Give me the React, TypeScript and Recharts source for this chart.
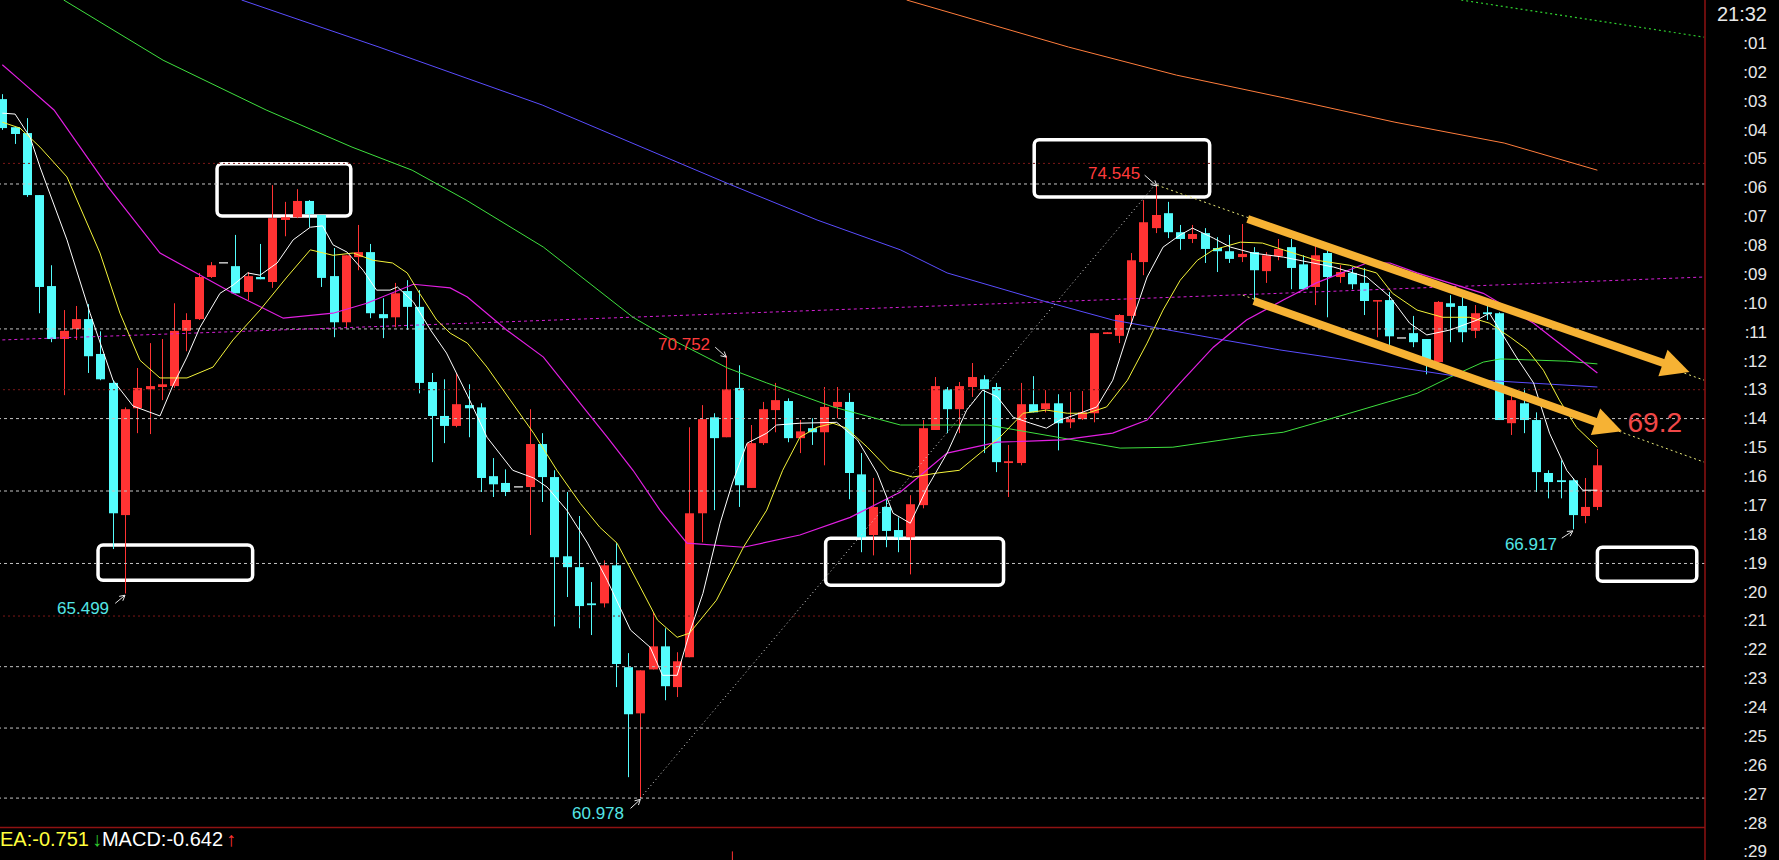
import React from 'react';
import {
  ComposedChart,
  Bar,
  Line,
  XAxis,
  YAxis,
  ReferenceLine,
  ReferenceArea,
  ReferenceDot,
} from 'recharts';

const W = 1779;
const H = 860;
const FONT = 'Arial, "Liberation Sans", sans-serif';
const UP = '#ff3333';
const DOWN = '#54fcfc';
const FLAT = '#c8c8c8';
const ARROW = '#f6b234';
const AXIS_RED = '#8e1212';
const BODY_W = 9;

// candles, one per bar
const OPEN = [
  76.42, 75.80, 75.67, 74.30, 72.29, 71.12, 71.34, 71.56, 70.79, 70.15,
  67.23, 69.59, 70.01, 70.06, 70.08, 71.30, 71.56, 72.49, 72.82, 72.73,
  72.16, 72.49, 72.38, 73.75, 73.81, 74.17, 73.86, 72.51, 71.49, 72.93,
  73.04, 71.67, 71.60, 72.18, 71.83, 70.17, 69.42, 69.20, 69.66, 69.61,
  68.09, 67.94, 67.87, 67.85, 68.80, 68.07, 66.32, 66.08, 65.28, 65.28,
  66.12, 63.87, 62.85, 63.82, 64.33, 63.43, 64.09, 67.27, 69.39, 68.95,
  70.04, 67.83, 68.82, 69.55, 69.75, 68.93, 69.15, 69.06, 69.62, 69.73,
  68.13, 66.79, 67.41, 66.90, 66.74, 67.45, 69.11, 70.01, 69.57, 70.06,
  70.23, 70.06, 68.38, 68.38, 69.68, 69.57, 69.70, 69.28, 69.35, 69.48,
  71.23, 71.19, 71.63, 72.82, 73.57, 73.90, 73.48, 73.33, 73.46, 73.13,
  73.06, 72.93, 73.04, 72.62, 72.95, 73.15, 72.77, 72.27, 73.02, 72.49,
  72.58, 72.36, 71.96, 71.98, 71.16, 71.25, 71.12, 70.61, 71.91, 71.85,
  71.30, 71.71, 71.69, 69.26, 69.70, 69.33, 68.16, 68.00, 68.00, 67.21,
  67.41,
];
const HIGH = [
  76.53, 75.80, 76.00, 74.30, 72.75, 71.76, 71.85, 71.89, 71.29, 70.21,
  69.61, 70.48, 71.03, 71.12, 71.91, 71.69, 72.58, 72.82, 72.82, 73.42,
  72.60, 73.22, 74.52, 74.15, 74.43, 74.19, 73.86, 73.13, 72.97, 73.64,
  73.22, 72.02, 72.36, 72.42, 72.20, 70.37, 70.23, 70.37, 70.12, 69.70,
  68.49, 68.24, 67.87, 69.57, 69.04, 68.22, 67.74, 67.21, 65.75, 66.23,
  66.61, 64.18, 63.80, 65.08, 64.73, 64.20, 69.17, 69.66, 69.48, 70.752,
  70.54, 69.22, 69.73, 70.15, 69.81, 69.33, 69.37, 70.06, 70.06, 69.93,
  68.60, 68.05, 67.60, 67.18, 67.67, 69.33, 70.28, 70.06, 70.17, 70.59,
  70.32, 70.15, 68.78, 70.15, 70.30, 69.99, 69.90, 69.95, 69.97, 71.25,
  71.27, 71.67, 73.02, 74.19, 74.545, 74.15, 73.64, 73.64, 73.57, 73.37,
  73.42, 73.66, 73.15, 73.04, 73.33, 73.33, 72.97, 73.24, 73.15, 72.75,
  72.71, 72.69, 71.98, 72.16, 71.16, 71.63, 71.12, 71.96, 72.09, 72.05,
  71.87, 71.85, 71.71, 69.95, 70.03, 69.50, 68.22, 68.44, 68.05, 68.05,
  68.69,
];
const LOW = [
  75.74, 75.43, 74.26, 71.69, 71.05, 69.88, 71.10, 70.37, 70.21, 66.48,
  65.499, 69.04, 69.02, 69.77, 70.04, 70.85, 71.54, 72.47, 72.82, 72.13,
  71.98, 72.44, 72.25, 73.39, 73.79, 73.59, 72.27, 71.16, 71.36, 72.64,
  71.58, 71.14, 71.38, 71.32, 69.92, 68.40, 68.82, 69.17, 68.95, 67.74,
  67.63, 67.65, 67.87, 66.79, 67.52, 64.77, 65.42, 64.73, 64.58, 65.19,
  63.43, 61.44, 60.978, 63.82, 63.14, 63.21, 64.09, 66.63, 67.34, 68.95,
  67.41, 67.83, 68.78, 69.06, 68.84, 68.60, 68.78, 68.33, 69.37, 67.58,
  66.41, 66.34, 66.52, 66.41, 65.92, 67.38, 69.11, 69.04, 69.04, 69.84,
  68.60, 68.18, 67.63, 68.33, 69.50, 69.50, 68.66, 69.15, 69.33, 69.28,
  71.23, 71.03, 71.43, 72.53, 73.46, 73.35, 73.09, 73.24, 72.80, 72.60,
  72.80, 72.82, 71.89, 72.36, 72.86, 72.22, 72.20, 71.87, 71.60, 72.36,
  72.22, 71.65, 71.16, 70.99, 71.16, 70.94, 70.34, 70.61, 71.05, 71.05,
  71.14, 71.54, 69.33, 69.00, 69.04, 67.74, 67.60, 67.60, 66.917, 67.05,
  67.34,
];
const CLOSE = [
  75.78, 75.65, 74.30, 72.27, 71.12, 71.30, 71.56, 70.74, 70.23, 67.27,
  69.57, 70.04, 70.08, 70.12, 71.30, 71.54, 72.49, 72.75, 72.82, 72.13,
  72.51, 72.44, 73.79, 73.81, 74.17, 73.88, 72.47, 71.49, 72.97, 73.04,
  71.69, 71.58, 72.13, 71.83, 70.15, 69.42, 69.20, 69.68, 69.59, 68.05,
  67.91, 67.74, 67.87, 68.80, 68.07, 66.30, 66.08, 65.22, 65.24, 66.12,
  63.94, 62.83, 63.80, 64.33, 63.45, 64.00, 67.27, 69.35, 68.93, 70.01,
  67.89, 68.82, 69.57, 69.77, 68.93, 69.08, 69.06, 69.62, 69.73, 68.16,
  66.74, 67.41, 66.88, 66.74, 67.47, 69.15, 70.08, 69.57, 70.08, 70.28,
  70.01, 68.40, 68.42, 69.68, 69.50, 69.70, 69.26, 69.35, 69.50, 71.25,
  71.27, 71.65, 72.86, 73.70, 73.86, 73.48, 73.33, 73.44, 73.11, 73.06,
  72.89, 73.00, 72.64, 72.97, 73.11, 72.69, 72.22, 72.97, 72.49, 72.60,
  72.33, 71.96, 71.98, 71.18, 71.16, 71.05, 70.63, 71.94, 71.83, 71.27,
  71.69, 71.67, 69.33, 69.77, 69.33, 68.18, 67.96, 67.96, 67.23, 67.41,
  68.33,
];

// moving averages as [bar index, price]
const MA_WHITE = [
  [0, 76.11], [1.04, 76.09], [2.26, 75.58], [3.07, 74.92], [5.27, 73.31], [7.15, 71.69],
  [9.02, 70.21], [10.65, 69.64], [12.85, 69.42], [13.91, 70.1], [15.05, 70.72], [16.11, 71.38],
  [17.74, 72.13], [18.8, 72.31], [20.0, 72.58], [21.0, 72.53], [22.4, 72.8], [23.7, 73.31],
  [25.1, 73.59], [26.1, 73.62], [26.95, 73.2], [28.1, 73.04], [29.4, 72.64], [30.5, 72.2],
  [31.6, 72.2], [32.2, 72.27], [33.5, 71.94], [34.9, 71.32], [36.2, 70.81], [37.9, 69.88],
  [39.5, 68.95], [41.6, 68.22], [43.3, 68.05], [44.4, 67.85], [46.0, 67.34], [47.7, 66.61],
  [49.3, 65.79], [51.2, 64.69], [52.8, 64.31], [53.8, 63.69], [55.0, 63.69], [56.0, 64.62],
  [57.1, 65.5], [58.5, 67.05], [59.5, 67.94], [60.7, 68.82], [62.3, 69.04], [63.1, 69.22],
  [65.0, 69.26], [68.0, 69.28], [69.7, 68.89], [71.3, 68.16], [72.6, 67.27], [74.0, 67.05],
  [75.4, 67.85], [77.0, 68.6], [78.6, 69.55], [79.9, 69.99], [81.1, 69.84], [82.4, 69.39],
  [83.8, 69.26], [85.1, 69.15], [86.2, 69.33], [87.8, 69.48], [89.2, 69.62], [90.5, 70.21],
  [91.9, 71.38], [93.3, 72.49], [94.6, 73.15], [96.0, 73.42], [97.0, 73.57], [98.7, 73.35],
  [100.1, 73.15], [101.9, 73.02], [104.4, 72.93], [108.5, 72.71], [111.2, 72.49], [113.1, 72.05],
  [114.7, 71.47], [116.1, 71.21], [118.0, 71.32], [120.2, 71.54], [121.2, 71.69], [123.4, 70.72],
  [124.8, 70.15], [126.1, 69.04], [127.5, 68.22], [128.8, 67.78], [130.0, 67.78],
];
const MA_YELLOW = [
  [0, 75.91], [1.44, 75.78], [3.07, 75.36], [5.27, 74.7], [7.96, 73.02], [9.59, 71.69],
  [11.22, 70.65], [12.85, 70.26], [15.05, 70.26], [17.17, 70.5], [18.8, 71.1], [21.0, 71.76],
  [23.2, 72.49], [25.1, 73.09], [26.95, 72.97], [28.6, 73.02], [30.2, 72.86], [31.8, 72.8],
  [33.0, 72.58], [34.0, 72.13], [35.4, 71.54], [36.5, 71.25], [37.9, 71.03], [39.5, 70.5],
  [41.4, 69.77], [43.3, 69.04], [45.2, 68.22], [47.1, 67.49], [48.7, 66.96], [50.1, 66.61],
  [51.7, 65.79], [53.4, 64.91], [55.0, 64.53], [56.0, 64.62], [58.2, 65.35], [60.4, 66.52],
  [62.3, 67.34], [63.6, 68.22], [65.0, 68.95], [66.4, 69.17], [67.7, 69.26], [68.8, 69.15],
  [70.5, 68.73], [72.3, 68.22], [74.2, 68.07], [76.2, 68.16], [78.0, 68.22], [79.7, 68.6],
  [81.3, 68.95], [83.2, 69.48], [85.1, 69.55], [86.8, 69.48], [88.4, 69.48], [90.0, 69.62],
  [91.7, 70.21], [93.3, 71.03], [94.6, 71.76], [96.0, 72.42], [97.4, 72.86], [98.7, 73.09],
  [100.9, 73.26], [102.7, 73.24], [104.4, 73.09], [107.1, 72.86], [109.8, 72.75], [112.0, 72.58],
  [113.3, 72.13], [115.3, 71.76], [117.4, 71.6], [119.6, 71.6], [121.2, 71.47], [122.9, 71.16],
  [124.3, 70.88], [125.6, 70.43], [126.9, 69.77], [128.3, 69.17], [130.0, 68.73],
];
const MA_MAGENTA = [
  [0, 77.18], [1.44, 76.84], [4.21, 76.18], [8.61, 74.48], [12.85, 73.02], [18.8, 72.13],
  [22.9, 71.58], [26.95, 71.69], [29.7, 71.91], [33.5, 72.33], [36.5, 72.25], [37.9, 72.05],
  [41.1, 71.32], [44.1, 70.72], [47.1, 69.7], [49.3, 68.95], [51.4, 68.22], [53.6, 67.34],
  [55.8, 66.61], [60.4, 66.52], [65.0, 66.79], [69.1, 67.18], [73.2, 67.74], [77.0, 68.6],
  [81.1, 68.84], [86.4, 68.89], [90.5, 69.04], [93.3, 69.33], [96.0, 70.15], [98.7, 70.94],
  [101.4, 71.54], [104.4, 71.98], [107.1, 72.36], [111.2, 72.8], [113.1, 72.8], [115.3, 72.58],
  [120.7, 72.13], [124.8, 71.47], [130.0, 70.37],
];
const MA_GREEN = [
  [5.0, 78.61], [13.1, 77.28], [21.5, 76.18], [28.5, 75.36], [33.4, 74.85], [37.8, 74.19],
  [44.1, 73.15], [51.4, 71.6], [54.2, 71.16], [59.1, 70.48], [62.3, 70.15], [67.7, 69.62],
  [73.2, 69.22], [80.3, 69.22], [91.1, 68.71], [95.4, 68.73], [101.7, 68.98], [104.4, 69.06],
  [109.8, 69.48], [115.3, 69.92], [118.0, 70.28], [120.7, 70.61], [122.1, 70.68], [127.5, 70.63],
  [130.0, 70.57],
];
const MA_BLUE = [
  [19.5, 78.61], [30.7, 77.57], [44.0, 76.29], [59.0, 74.57], [66.4, 73.75], [73.2, 73.09],
  [77.0, 72.58], [85.1, 71.94], [90.5, 71.54], [98.7, 71.14], [104.1, 70.88], [115.3, 70.43],
  [120.7, 70.21], [130.0, 70.06],
];
const MA_ORANGE = [
  [73.7, 78.61], [86.9, 77.57], [95.7, 76.95], [104.6, 76.44], [113.5, 75.91], [122.4, 75.45],
  [130.0, 74.85],
];
const MA_LONG_DASHED = [[0, 71.1], [34.0, 71.43], [73.2, 71.82], [104.1, 72.13], [138.7, 72.49]];
const MA_GREEN_DOTTED = [[118.9, 78.61], [138.7, 77.79]];

// horizontal levels
const FIB_LEVELS = [74.545, 71.343, 69.362, 67.762, 66.161, 63.881, 62.525, 60.978];
const ROUND_LEVELS = [75, 70, 65];
const MACD_SPLIT = 60.33;

// right-hand labels
const TICK_LABELS = [
  '21:32', ':01', ':02', ':03', ':04', ':05', ':06', ':07', ':08', ':09',
  ':10', ':11', ':12', ':13', ':14', ':15', ':16', ':17', ':18', ':19',
  ':20', ':21', ':22', ':23', ':24', ':25', ':26', ':27', ':28', ':29',
];
const TICK_VALUES = TICK_LABELS.map((_, k) => 78.3 - 0.638 * k);

// drawings
const BOXES = [
  { x1: 17.5, x2: 28.4, y1: 73.84, y2: 74.99 },
  { x1: 7.8, x2: 20.4, y1: 65.79, y2: 66.57 },
  { x1: 84.1, x2: 98.4, y1: 74.26, y2: 75.52 },
  { x1: 67.1, x2: 81.6, y1: 65.68, y2: 66.72 },
  { x1: 130.0, x2: 138.1, y1: 65.77, y2: 66.52 },
];
const NOTES = [
  { text: '74.545', i: 92.73, p: 74.79, color: '#ff3b3b', size: 17 },
  { text: '70.752', i: 57.68, p: 71.01, color: '#ff3b3b', size: 17 },
  { text: '65.499', i: 8.7, p: 65.17, color: '#54e6e6', size: 17 },
  { text: '60.978', i: 50.67, p: 60.66, color: '#54e6e6', size: 17 },
  { text: '66.917', i: 126.7, p: 66.59, color: '#54e6e6', size: 17 },
  { text: '69.2', i: 136.9, p: 69.28, color: '#f04848', size: 28 },
];
const NOTE_ARROWS = [
  [[93.1, 74.74], [94.1, 74.5]],
  [[58.1, 70.94], [59.0, 70.72]],
  [[9.2, 65.28], [10.0, 65.46]],
  [[51.2, 60.75], [52.0, 60.95]],
  [[127.1, 66.72], [128.0, 66.88]],
];
const BIG_ARROWS = [
  [[101.5, 73.77], [137.5, 70.39]],
  [[102.0, 71.96], [132.0, 69.085]],
];
const SWING_LINE = [[52, 60.978], [94, 74.545]];
const CHANNEL_LINES = [
  [[94.1, 74.52], [138.7, 70.21]],
  [[101.1, 72.09], [138.7, 68.4]],
];

const candles = OPEN.map((o, i) => ({ i, o, h: HIGH[i], l: LOW[i], c: CLOSE[i] }));
const pts = (arr: number[][]) => arr.map(([i, v]) => ({ i, v }));
const seg = (s: number[][]) => [{ x: s[0][0], y: s[0][1] }, { x: s[1][0], y: s[1][1] }];

const Candle = (props: any) => {
  const { x, y, width, height, payload } = props;
  if (!payload || x == null || y == null) return null;
  const { o, h, l, c } = payload;
  const hh = height || 0;
  const top = Math.min(y, y + hh);
  const bottom = Math.max(y, y + hh);
  const span = h - l;
  const py = (v: number) => (span > 0 ? top + ((h - v) / span) * (bottom - top) : top);
  const bTop = py(Math.max(o, c));
  const bBot = py(Math.min(o, c));
  const color = c > o ? UP : c < o ? DOWN : FLAT;
  const mid = x + (width || 0) / 2;
  const cx = Math.round(mid) + 0.5;
  return (
    <g>
      <line x1={cx} x2={cx} y1={top} y2={bottom} stroke={color} strokeWidth={1} />
      <rect x={cx - BODY_W / 2} y={bTop} width={BODY_W} height={Math.max(bBot - bTop, 1.5)} fill={color} />
    </g>
  );
};

const thickArrow = (p: any) => {
  const { x1, y1, x2, y2 } = p;
  const len = Math.hypot(x2 - x1, y2 - y1) || 1;
  const ux = (x2 - x1) / len;
  const uy = (y2 - y1) / len;
  const head = 28;
  const half = 14;
  const bx = x2 - ux * head;
  const by = y2 - uy * head;
  return (
    <g>
      <line x1={x1} y1={y1} x2={bx + ux * 2} y2={by + uy * 2} stroke={ARROW} strokeWidth={8} />
      <polygon
        points={`${x2},${y2} ${bx - uy * half},${by + ux * half} ${bx + uy * half},${by - ux * half}`}
        fill={ARROW}
      />
    </g>
  );
};

const thinArrow = (p: any) => {
  const { x1, y1, x2, y2 } = p;
  const a = Math.atan2(y2 - y1, x2 - x1);
  const L = 6;
  return (
    <g stroke="#e6e6e6" strokeWidth={1}>
      <line x1={x1} y1={y1} x2={x2} y2={y2} />
      <line x1={x2} y1={y2} x2={x2 - L * Math.cos(a - 0.5)} y2={y2 - L * Math.sin(a - 0.5)} />
      <line x1={x2} y1={y2} x2={x2 - L * Math.cos(a + 0.5)} y2={y2 - L * Math.sin(a + 0.5)} />
    </g>
  );
};

const boxShape = (p: any) => (
  <rect x={p.x} y={p.y} width={p.width} height={p.height} rx={5} fill="none" stroke="#ffffff" strokeWidth={3.5} />
);

const AxisTick = (p: any) => {
  const v = p.payload?.value;
  let k = 0;
  TICK_VALUES.forEach((t, n) => {
    if (Math.abs(t - v) < Math.abs(TICK_VALUES[k] - v)) k = n;
  });
  return (
    <text
      x={W - 12}
      y={p.y}
      dy={k === 0 ? 7 : 6}
      textAnchor="end"
      fill="#e8e8e8"
      fontSize={k === 0 ? 20 : 17}
      fontFamily={FONT}
    >
      {TICK_LABELS[k]}
    </text>
  );
};

const maLine = (data: number[][], color: string, extra: any = {}) => (
  <Line
    data={pts(data)}
    dataKey="v"
    type="linear"
    dot={false}
    activeDot={false}
    stroke={color}
    strokeWidth={1}
    isAnimationActive={false}
    {...extra}
  />
);

const App: React.FC = () => {
  return (
    <div style={{ position: 'relative', width: W, height: H, background: '#000', overflow: 'hidden' }}>
      <style>{'body{margin:0;background:#000;}'}</style>
      <ComposedChart width={W} height={H} data={candles} margin={{ top: 0, right: 0, bottom: 0, left: 0 }}>
        <XAxis type="number" dataKey="i" domain={[-0.19, 138.77]} allowDataOverflow hide />
        <YAxis
          orientation="right"
          width={74}
          domain={[59.61, 78.61]}
          allowDataOverflow
          ticks={TICK_VALUES}
          interval={0}
          tickLine={false}
          axisLine={{ stroke: AXIS_RED, strokeWidth: 1.5 }}
          tick={AxisTick}
        />

        {ROUND_LEVELS.map((v) => (
          <ReferenceLine key={`r${v}`} y={v} stroke="#7c1818" strokeDasharray="2 3" />
        ))}
        {FIB_LEVELS.map((v) => (
          <ReferenceLine key={`f${v}`} y={v} stroke="#c4c4c4" strokeDasharray="3 3" />
        ))}
        <ReferenceLine y={MACD_SPLIT} stroke={AXIS_RED} strokeWidth={1.5} />
        <ReferenceLine segment={[{ x: 59.5, y: 59.8 }, { x: 59.5, y: 59.61 }]} stroke={UP} />

        {maLine(MA_LONG_DASHED, '#d61fd6', { strokeDasharray: '3 3' })}
        {maLine(MA_GREEN_DOTTED, '#2fd02f', { strokeDasharray: '2 3', strokeWidth: 1.2 })}
        {maLine(MA_ORANGE, '#ff7d3c')}
        {maLine(MA_BLUE, '#5a4dff')}
        {maLine(MA_GREEN, '#3fe03f')}

        <Bar dataKey={(d: any) => [d.l, d.h]} barSize={BODY_W} shape={Candle} isAnimationActive={false} />

        {maLine(MA_MAGENTA, '#e21fe2', { strokeWidth: 1.2 })}
        {maLine(MA_YELLOW, '#f4f43a')}
        {maLine(MA_WHITE, '#ffffff')}

        <ReferenceLine segment={seg(SWING_LINE)} stroke="#d8d8d8" strokeDasharray="1 3" />
        {CHANNEL_LINES.map((s, k) => (
          <ReferenceLine key={`c${k}`} segment={seg(s)} stroke="#eaea7a" strokeDasharray="2 3" />
        ))}
        {BIG_ARROWS.map((s, k) => (
          <ReferenceLine key={`a${k}`} segment={seg(s)} stroke={ARROW} shape={thickArrow} />
        ))}
        {NOTE_ARROWS.map((s, k) => (
          <ReferenceLine key={`n${k}`} segment={seg(s)} stroke="#e6e6e6" shape={thinArrow} />
        ))}
        {BOXES.map((b, k) => (
          <ReferenceArea key={`b${k}`} x1={b.x1} x2={b.x2} y1={b.y1} y2={b.y2} shape={boxShape} />
        ))}
        {NOTES.map((n) => (
          <ReferenceDot
            key={n.text}
            x={n.i}
            y={n.p}
            r={0}
            fill="none"
            stroke="none"
            label={{ value: n.text, position: 'left', offset: 0, fill: n.color, fontSize: n.size, fontFamily: FONT }}
          />
        ))}
      </ComposedChart>
      <div
        style={{
          position: 'absolute',
          left: 0,
          top: 829,
          fontFamily: FONT,
          fontSize: 20,
          lineHeight: '20px',
          whiteSpace: 'nowrap',
        }}
      >
        <span style={{ color: '#ffff3c' }}>EA:-0.751</span>
        <span style={{ color: '#2ecc2e', marginLeft: 3 }}>↓</span>
        <span style={{ color: '#ffffff' }}>MACD:-0.642</span>
        <span style={{ color: '#ff3333', marginLeft: 3 }}>↑</span>
      </div>
    </div>
  );
};

export default App;
